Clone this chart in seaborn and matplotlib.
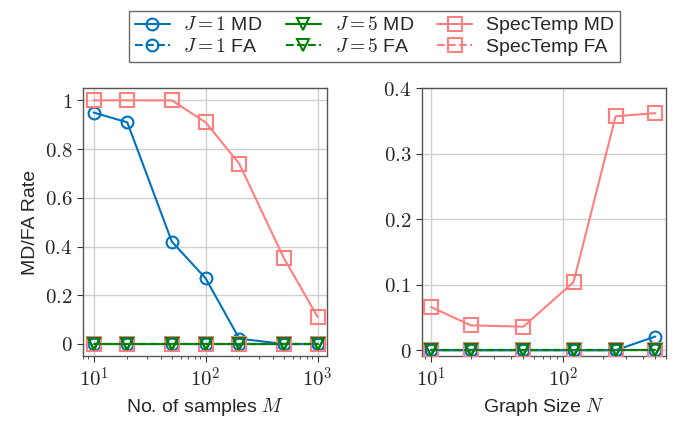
import numpy as np
import seaborn as sns
import matplotlib
matplotlib.use("Agg")
import matplotlib.pyplot as plt
from matplotlib.ticker import FuncFormatter, FixedLocator, LogLocator

# left panel: number of samples
samples = [10, 20, 50, 100, 200, 500, 1000]
j1_md_m = [0.95, 0.91, 0.42, 0.27, 0.022, 0.0, 0.0]
j5_md_m = [0, 0, 0, 0, 0, 0, 0]
st_md_m = [1.0, 1.0, 1.0, 0.91, 0.74, 0.353, 0.112]
j1_fa_m = [0, 0, 0, 0, 0, 0, 0]
j5_fa_m = [0, 0, 0, 0, 0, 0, 0]
st_fa_m = [0, 0, 0, 0, 0, 0, 0]

# right panel: graph size
sizes = [10, 20, 50, 120, 250, 500]
j1_md_n = [0, 0, 0, 0, 0, 0.021]
j5_md_n = [0, 0, 0, 0, 0, 0]
st_md_n = [0.066, 0.038, 0.036, 0.104, 0.357, 0.362]
j1_fa_n = [0, 0, 0, 0, 0, 0]
j5_fa_n = [0, 0, 0, 0, 0, 0]
st_fa_n = [0, 0, 0, 0, 0, 0]

blue = "#0072bd"
green = "#008000"
pink = "#ff7f7f"

sns.set_style("ticks")
plt.rcParams["font.family"] = ["Liberation Sans", "DejaVu Sans"]
plt.rcParams["mathtext.fontset"] = "cm"
plt.rcParams["font.size"] = 14

fig = plt.figure(figsize=(6.78, 4.24), dpi=100)
ax1 = fig.add_axes([0.122, 0.160, 0.360, 0.632])
ax2 = fig.add_axes([0.622, 0.160, 0.360, 0.632])


def draw(ax, x, series):
    for y, color, marker, ms, ls, label, z in series:
        sns.lineplot(x=x, y=y, ax=ax, color=color, marker=marker, markersize=ms,
                     markerfacecolor="none", markeredgecolor=color, markeredgewidth=1.5,
                     linestyle=ls, linewidth=1.5, label=label, zorder=z, legend=False)


def panel(ax, x, j1_md, j1_fa, j5_md, j5_fa, st_md, st_fa):
    draw(ax, x, [
        (j1_md, blue, "o", 8.5, "-", r"$J=1$ MD", 2.5),
        (j1_fa, blue, "o", 8.5, "--", r"$J=1$ FA", 3),
        (j5_md, green, "v", 8.5, "-", r"$J=5$ MD", 2),
        (j5_fa, green, "v", 8.5, "--", r"$J=5$ FA", 4),
        (st_md, pink, "s", 9.5, "-", "SpecTemp MD", 2.6),
        (st_fa, pink, "s", 9.5, "--", "SpecTemp FA", 3.5),
    ])


panel(ax1, samples, j1_md_m, j1_fa_m, j5_md_m, j5_fa_m, st_md_m, st_fa_m)
panel(ax2, sizes, j1_md_n, j1_fa_n, j5_md_n, j5_fa_n, st_md_n, st_fa_n)

num_fmt = FuncFormatter(lambda v, p: f"${v:g}$")
log_fmt = FuncFormatter(lambda v, p: f"$10^{{{int(round(np.log10(v)))}}}$")

for ax in (ax1, ax2):
    ax.set_xscale("log")
    ax.xaxis.set_major_locator(LogLocator(base=10))
    ax.xaxis.set_minor_locator(LogLocator(base=10, subs=np.arange(2, 10)))
    ax.xaxis.set_major_formatter(log_fmt)
    ax.yaxis.set_major_formatter(num_fmt)
    ax.grid(True, which="major", color="#d0d0d0", linewidth=1.0)
    ax.set_axisbelow(True)
    for s in ax.spines.values():
        s.set_color("#555555")
        s.set_linewidth(1.0)
    ax.tick_params(axis="both", which="major", labelsize=15, length=4, color="#333333")
    ax.tick_params(axis="x", which="minor", length=2.5, color="#333333")

ax1.set_xlim(8.0, 1210)
ax1.set_ylim(-0.05, 1.05)
ax1.yaxis.set_major_locator(FixedLocator([0, 0.2, 0.4, 0.6, 0.8, 1.0]))
ax1.set_xlabel(r"No. of samples $M$", fontsize=14)
ax1.set_ylabel("MD/FA Rate", fontsize=14)

ax2.set_xlim(8.5, 600)
ax2.set_ylim(-0.009, 0.4)
ax2.yaxis.set_major_locator(FixedLocator([0, 0.1, 0.2, 0.3, 0.4]))
ax2.set_xlabel(r"Graph Size $N$", fontsize=14)
ax2.set_ylabel("")

handles, labels = ax1.get_legend_handles_labels()
leg = fig.legend(handles, labels, loc="upper center", bbox_to_anchor=(0.552, 0.998),
                 ncol=3, fontsize=14, frameon=True, fancybox=False, edgecolor="#444444",
                 handlelength=1.8, columnspacing=1.2, handletextpad=0.7,
                 borderpad=0.3, labelspacing=0.2)
leg.get_frame().set_linewidth(1.0)

fig.savefig("out.png", dpi=100)
